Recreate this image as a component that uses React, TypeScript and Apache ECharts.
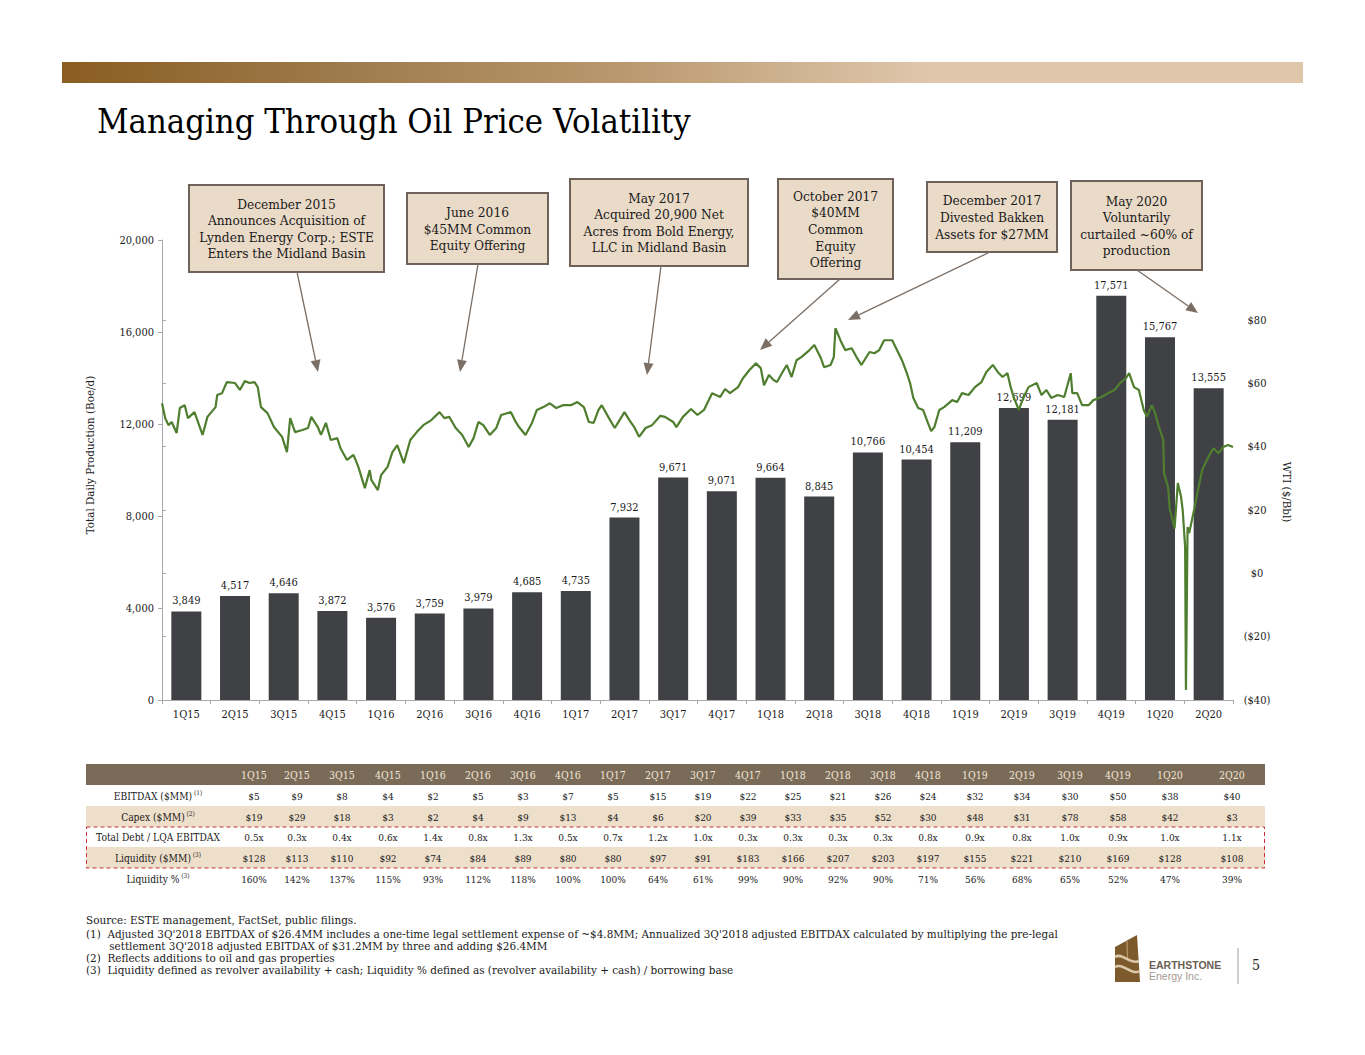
import React, { useEffect, useRef } from "react";
import * as echarts from "echarts";

const SERIF = '"DejaVu Serif Condensed", "DejaVu Serif", serif';
const SANS = '"Liberation Sans", Arial, sans-serif';

const quarters = ["1Q15","2Q15","3Q15","4Q15","1Q16","2Q16","3Q16","4Q16","1Q17","2Q17","3Q17","4Q17","1Q18","2Q18","3Q18","4Q18","1Q19","2Q19","3Q19","4Q19","1Q20","2Q20"];
const production = [3849,4517,4646,3872,3576,3759,3979,4685,4735,7932,9671,9071,9664,8845,10766,10454,11209,12699,12181,17571,15767,13555];

// WTI price: [months since Jan 2015, $/Bbl]
const wti = [[0.0,53.7],[0.2,49.0],[0.4,46.8],[0.6,47.8],[0.9,44.3],[1.1,52.2],[1.4,53.1],[1.6,49.0],[2.0,50.9],[2.5,43.7],[2.8,49.4],[3.3,52.5],[3.4,56.3],[3.7,56.9],[4.0,60.4],[4.5,60.1],[4.8,57.9],[5.1,60.7],[5.4,60.1],[5.7,60.4],[5.9,58.8],[6.1,52.5],[6.5,50.6],[6.9,46.2],[7.4,43.1],[7.7,38.3],[7.9,49.0],[8.2,44.6],[8.6,45.2],[9.0,45.9],[9.2,49.4],[9.6,46.2],[9.8,43.7],[10.1,47.5],[10.4,42.1],[10.8,42.7],[11.0,39.5],[11.4,35.8],[11.8,37.4],[12.1,33.6],[12.5,26.9],[12.8,32.6],[12.9,29.5],[13.3,26.3],[13.5,31.0],[13.9,33.6],[14.2,38.3],[14.5,40.5],[14.9,34.8],[15.3,42.1],[15.7,44.6],[16.1,46.8],[16.6,48.4],[17.1,50.9],[17.4,49.0],[17.7,49.4],[18.1,45.9],[18.5,43.7],[18.9,39.9],[19.2,42.7],[19.5,47.8],[19.8,46.8],[20.2,43.7],[20.6,45.9],[20.9,50.0],[21.5,50.9],[21.8,47.8],[22.0,46.2],[22.4,43.7],[22.8,47.5],[23.1,51.6],[23.5,52.5],[23.9,53.7],[24.3,52.2],[24.7,53.1],[25.2,53.1],[25.6,54.1],[26.0,52.5],[26.3,47.8],[26.6,47.5],[26.9,51.6],[27.1,53.1],[27.5,49.4],[27.9,45.9],[28.2,48.4],[28.5,50.9],[28.8,48.4],[29.1,46.2],[29.4,43.1],[29.8,45.9],[30.2,46.8],[30.7,49.7],[31.0,49.4],[31.5,47.8],[31.7,46.2],[32.1,49.4],[32.6,51.9],[33.0,50.0],[33.4,51.6],[33.9,56.9],[34.4,55.7],[34.7,58.2],[35.0,56.9],[35.5,58.8],[35.8,61.6],[36.2,64.2],[36.6,66.3],[36.9,64.8],[37.1,59.4],[37.4,62.6],[37.7,61.0],[37.9,60.4],[38.2,63.2],[38.5,65.8],[38.8,62.0],[39.1,67.3],[39.4,68.3],[39.9,70.5],[40.2,72.1],[40.6,68.0],[40.8,65.1],[41.2,65.8],[41.4,68.3],[41.5,77.4],[41.8,73.7],[42.1,70.5],[42.5,71.1],[42.8,68.3],[43.1,65.8],[43.6,69.9],[43.9,69.5],[44.2,70.5],[44.5,73.6],[45.0,73.6],[45.2,71.5],[45.6,67.3],[45.9,63.2],[46.1,60.1],[46.3,55.4],[46.6,52.2],[46.9,51.6],[47.2,47.5],[47.4,44.9],[47.6,46.2],[47.9,51.6],[48.2,52.5],[48.7,54.7],[49.0,54.1],[49.3,56.9],[49.7,56.3],[50.1,58.8],[50.5,60.4],[50.8,63.6],[51.2,65.8],[51.5,63.6],[51.8,62.0],[52.1,63.2],[52.3,58.8],[52.5,55.4],[52.8,51.6],[53.1,55.7],[53.4,58.8],[53.9,60.1],[54.2,56.3],[54.5,57.9],[54.8,55.4],[55.2,56.3],[55.6,55.7],[56.0,63.2],[56.1,56.9],[56.4,56.9],[56.7,53.1],[57.1,53.1],[57.4,54.7],[57.9,55.7],[58.3,56.9],[58.7,57.9],[59.1,60.4],[59.4,61.6],[59.6,63.2],[59.9,58.8],[60.2,57.9],[60.5,51.6],[60.7,49.4],[61.0,53.1],[61.2,50.6],[61.4,46.8],[61.7,42.1],[61.75,31.6],[62.0,27.2],[62.1,20.5],[62.4,14.2],[62.6,28.5],[62.8,24.1],[62.9,20.0],[63.05,8.3],[63.1,-36.8],[63.2,14.6],[63.3,12.7],[63.6,20.0],[63.8,25.3],[64.1,32.6],[64.3,34.8],[64.6,37.9],[64.8,39.5],[65.1,37.9],[65.4,39.9],[65.7,40.5],[66.0,39.9]];

const prodTicks = [0, 4000, 8000, 12000, 16000, 20000];
const wtiTicks = [-40, -20, 0, 20, 40, 60, 80];

// Table
const ebitdax = [5,9,8,4,2,5,3,7,5,15,19,22,25,21,26,24,32,34,30,50,38,40];
const capex = [19,29,18,3,2,4,9,13,4,6,20,39,33,35,52,30,48,31,78,58,42,3];
const debtRatio = [0.5,0.3,0.4,0.6,1.4,0.8,1.3,0.5,0.7,1.2,1.0,0.3,0.3,0.3,0.3,0.8,0.9,0.8,1.0,0.9,1.0,1.1];
const liquidity = [128,113,110,92,74,84,89,80,80,97,91,183,166,207,203,197,155,221,210,169,128,108];
const liquidityPct = [160,142,137,115,93,112,118,100,100,64,61,99,90,92,90,71,56,68,65,52,47,39];
const rowLabels = [
  { main: "EBITDAX ($MM)", sup: "(1)" },
  { main: "Capex ($MM)", sup: "(2)" },
  { main: "Total Debt / LQA EBITDAX", sup: "" },
  { main: "Liquidity ($MM)", sup: "(3)" },
  { main: "Liquidity %", sup: "(3)" },
];

const callouts = [
  { lines: ["December 2015", "Announces Acquisition of", "Lynden Energy Corp.; ESTE", "Enters the Midland Basin"] },
  { lines: ["June 2016", "$45MM Common", "Equity Offering"] },
  { lines: ["May 2017", "Acquired 20,900 Net", "Acres from Bold Energy,", "LLC in Midland Basin"] },
  { lines: ["October 2017", "$40MM", "Common", "Equity", "Offering"] },
  { lines: ["December 2017", "Divested Bakken", "Assets for $27MM"] },
  { lines: ["May 2020", "Voluntarily", "curtailed ~60% of", "production"] },
];

const footnotes = [
  "Source: ESTE management, FactSet, public filings.",
  "(1)  Adjusted 3Q'2018 EBITDAX of $26.4MM includes a one-time legal settlement expense of ~$4.8MM; Annualized 3Q'2018 adjusted EBITDAX calculated by multiplying the pre-legal",
  "       settlement 3Q'2018 adjusted EBITDAX of $31.2MM by three and adding $26.4MM",
  "(2)  Reflects additions to oil and gas properties",
  "(3)  Liquidity defined as revolver availability + cash; Liquidity % defined as (revolver availability + cash) / borrowing base",
];

// layout (not data)
const boxes = [
  { x: 189, y: 185, w: 195, h: 87 },
  { x: 407, y: 193, w: 141, h: 71 },
  { x: 570, y: 179, w: 178, h: 87 },
  { x: 778, y: 179, w: 115, h: 100 },
  { x: 927, y: 182, w: 130, h: 70 },
  { x: 1071, y: 181, w: 131, h: 89 },
];
const arrows = [
  [297, 272, 318, 372],
  [478, 264, 460, 372],
  [661, 266, 647, 375],
  [840, 279, 760, 350],
  [990, 252, 848, 320],
  [1137, 270, 1198, 313],
];
const colX = [254,297,342,388,433,478,523,568,613,658,703,748,793,838,883,928,975,1022,1070,1118,1170,1232];

const fmtNum = (v: number) => v.toLocaleString("en-US");
const fmtMoney = (v: number) => (v < 0 ? `($${-v})` : `$${v}`);

function arrowEls(x1: number, y1: number, x2: number, y2: number) {
  const dx = x2 - x1, dy = y2 - y1;
  const len = Math.sqrt(dx * dx + dy * dy);
  const ux = dx / len, uy = dy / len;
  const hl = 12, hw = 5;
  const bx = x2 - ux * hl, by = y2 - uy * hl;
  const col = "#7B6E64";
  return [
    { type: "line", z: 20, shape: { x1, y1, x2: bx, y2: by }, style: { stroke: col, lineWidth: 1.3 } },
    {
      type: "polygon", z: 20,
      shape: { points: [[x2, y2], [bx - uy * hw, by + ux * hw], [bx + uy * hw, by - ux * hw]] },
      style: { fill: col },
    },
  ];
}

export default function App() {
  const ref = useRef<HTMLDivElement>(null);
  useEffect(() => {
    if (!ref.current) return;
    const chart = echarts.init(ref.current, null, { renderer: "svg" });
    const g: any[] = [];

    // banner
    g.push({
      type: "rect", z: 1, shape: { x: 62, y: 62, width: 1241, height: 21 },
      style: {
        fill: new echarts.graphic.LinearGradient(0, 0, 1, 0, [
          { offset: 0, color: "#8A5D22" },
          { offset: 0.25, color: "#A07E50" },
          { offset: 0.45, color: "#B9986F" },
          { offset: 0.7, color: "#E0C7AC" },
          { offset: 1, color: "#E0C6AA" },
        ]),
      },
    });
    // title
    g.push({
      type: "text", z: 5, x: 97, y: 121,
      style: { text: "Managing Through Oil Price Volatility", fill: "#000", fontFamily: SERIF, fontSize: 34.3, textVerticalAlign: "middle" },
    });

    // callouts
    callouts.forEach((c, i) => {
      const b = boxes[i];
      g.push({
        type: "rect", z: 15, shape: { x: b.x, y: b.y, width: b.w, height: b.h },
        style: { fill: "#EADBC8", stroke: "#6E625A", lineWidth: 2 },
      });
      g.push({
        type: "text", z: 16, x: b.x + b.w / 2, y: b.y + b.h / 2,
        style: {
          text: c.lines.join("\n"), fill: "#1a1a1a", fontFamily: SERIF, fontSize: 13.6,
          lineHeight: 16.6, textAlign: "center", textVerticalAlign: "middle",
        },
      });
    });
    arrows.forEach((a) => g.push(...arrowEls(a[0], a[1], a[2], a[3])));

    // axis names
    g.push({
      type: "text", z: 5, x: 90, y: 455, rotation: Math.PI / 2,
      style: { text: "Total Daily Production (Boe/d)", fill: "#222", fontFamily: SERIF, fontSize: 11.5, textAlign: "center", textVerticalAlign: "middle" },
    });
    g.push({
      type: "text", z: 5, x: 1287, y: 492, rotation: -Math.PI / 2,
      style: { text: "WTI ($/Bbl)", fill: "#222", fontFamily: SERIF, fontSize: 11.5, textAlign: "center", textVerticalAlign: "middle" },
    });

    // table
    const tL = 86, tW = 1179;
    const rowTop = [785, 806, 827, 847, 868];
    const rowH = [21, 21, 20, 21, 21];
    g.push({ type: "rect", z: 2, shape: { x: tL, y: 764, width: tW, height: 21 }, style: { fill: "#7A6A58" } });
    [1, 3].forEach((r) => {
      g.push({ type: "rect", z: 2, shape: { x: tL, y: rowTop[r], width: tW, height: rowH[r] }, style: { fill: "#EEDFCB" } });
    });
    quarters.forEach((q, i) => {
      g.push({
        type: "text", z: 5, x: colX[i], y: 775,
        style: { text: q, fill: "#F1E6D6", fontFamily: SERIF, fontSize: 10.5, textAlign: "center", textVerticalAlign: "middle" },
      });
    });
    const rows = [
      ebitdax.map((v) => `$${v}`),
      capex.map((v) => `$${v}`),
      debtRatio.map((v) => `${v.toFixed(1)}x`),
      liquidity.map((v) => `$${v}`),
      liquidityPct.map((v) => `${v}%`),
    ];
    rows.forEach((vals, r) => {
      const cy = rowTop[r] + rowH[r] / 2 + 0.5;
      const lab = rowLabels[r];
      g.push({
        type: "text", z: 5, x: 158, y: cy,
        style: {
          text: lab.sup ? `{m|${lab.main}}{s| ${lab.sup}}` : `{m|${lab.main}}`,
          textAlign: "center", textVerticalAlign: "middle",
          rich: {
            m: { fontFamily: SERIF, fontSize: 10.2, fill: "#1a1a1a", lineHeight: 14 },
            s: { fontFamily: SERIF, fontSize: 6.5, fill: "#1a1a1a", verticalAlign: "top", lineHeight: 14, padding: [0, 0, 6, 0] },
          },
        },
      });
      vals.forEach((t, i) => {
        g.push({
          type: "text", z: 5, x: colX[i], y: cy,
          style: { text: t, fill: "#1a1a1a", fontFamily: SERIF, fontSize: 10, textAlign: "center", textVerticalAlign: "middle" },
        });
      });
    });
    g.push({
      type: "rect", z: 6, shape: { x: 86.5, y: 827, width: 1178, height: 41 },
      style: { fill: "none", stroke: "#C8323A", lineWidth: 1, lineDash: [4, 3] },
    });

    // footnotes
    const fy = [920, 934, 946, 958, 970];
    footnotes.forEach((t, i) => {
      g.push({
        type: "text", z: 5, x: 86, y: fy[i],
        style: { text: t, fill: "#1a1a1a", fontFamily: SERIF, fontSize: 11.6, textVerticalAlign: "middle" },
      });
    });

    // logo
    g.push({ type: "polygon", z: 5, shape: { points: [[1115, 947], [1137, 935], [1140, 982], [1115, 982]] }, style: { fill: "#7D5A2C" } });
    g.push({ type: "line", z: 6, shape: { x1: 1127, y1: 941, x2: 1127.5, y2: 958 }, style: { stroke: "#B9976A", lineWidth: 1.2 } });
    g.push({ type: "bezierCurve", z: 6, shape: { x1: 1115, y1: 957, cpx1: 1122, cpy1: 952, cpx2: 1130, cpy2: 965, x2: 1139, y2: 961 }, style: { stroke: "#DCC8A8", lineWidth: 2.5, fill: "none" } });
    g.push({ type: "bezierCurve", z: 6, shape: { x1: 1115, y1: 967, cpx1: 1123, cpy1: 962, cpx2: 1131, cpy2: 976, x2: 1140, y2: 971 }, style: { stroke: "#DCC8A8", lineWidth: 2.5, fill: "none" } });
    g.push({ type: "text", z: 6, x: 1149, y: 965, style: { text: "EARTHSTONE", fill: "#6B5D51", fontFamily: SANS, fontWeight: "bold", fontSize: 10.5, textVerticalAlign: "middle" } });
    g.push({ type: "text", z: 6, x: 1149, y: 976, style: { text: "Energy Inc.", fill: "#A39A92", fontFamily: SANS, fontSize: 10.5, textVerticalAlign: "middle" } });
    g.push({ type: "line", z: 6, shape: { x1: 1238, y1: 948, x2: 1238, y2: 984 }, style: { stroke: "#CFCFCF", lineWidth: 2 } });
    g.push({ type: "text", z: 6, x: 1252, y: 965, style: { text: "5", fill: "#222", fontFamily: SERIF, fontSize: 14, textVerticalAlign: "middle" } });

    const axisCol = "#A8A8A8";
    const option: any = {
      animation: false,
      backgroundColor: "#ffffff",
      textStyle: { fontFamily: SERIF },
      grid: [
        { left: 162, right: 132, top: 240, bottom: 355 },
        { left: 162, right: 132, top: 320, bottom: 355 },
      ],
      xAxis: [
        {
          type: "category", gridIndex: 0, data: quarters,
          axisLine: { lineStyle: { color: axisCol } },
          axisTick: { show: true, length: 4, lineStyle: { color: axisCol } },
          axisLabel: { color: "#1a1a1a", fontSize: 11, margin: 9, fontFamily: SERIF },
        },
        { type: "value", gridIndex: 1, min: 0, max: 66, show: false },
      ],
      yAxis: [
        {
          type: "value", gridIndex: 0, min: prodTicks[0], max: prodTicks[prodTicks.length - 1], interval: prodTicks[1] - prodTicks[0],
          axisLine: { show: true, lineStyle: { color: axisCol } },
          axisTick: { show: true, length: 4, lineStyle: { color: axisCol } },
          splitLine: { show: false },
          axisLabel: { formatter: (v: number) => fmtNum(v), color: "#1a1a1a", fontSize: 11, margin: 8, fontFamily: SERIF },
        },
        {
          type: "value", gridIndex: 1, position: "right",
          min: wtiTicks[0], max: wtiTicks[wtiTicks.length - 1], interval: wtiTicks[1] - wtiTicks[0],
          axisLine: { show: true, lineStyle: { color: axisCol } },
          axisTick: { show: true, length: 4, lineStyle: { color: axisCol } },
          splitLine: { show: false },
          axisLabel: { formatter: (v: number) => fmtMoney(v), color: "#1a1a1a", fontSize: 11, margin: 24, align: "center", fontFamily: SERIF },
        },
      ],
      series: [
        {
          type: "bar", xAxisIndex: 0, yAxisIndex: 0, data: production, barWidth: 30, z: 2,
          itemStyle: { color: "#404145" },
          label: { show: true, position: "top", distance: 5, formatter: (p: any) => fmtNum(p.value), color: "#1a1a1a", fontSize: 11, fontFamily: SERIF },
        },
        {
          type: "line", xAxisIndex: 1, yAxisIndex: 1, data: wti, symbol: "none", showSymbol: false, z: 3,
          lineStyle: { color: "#4E7E2E", width: 2.2 },
        },
      ],
      graphic: g,
    };
    chart.setOption(option);
    return () => chart.dispose();
  }, []);
  return <div ref={ref} style={{ position: "fixed", left: 0, top: 0, width: 1365, height: 1055 }} />;
}
